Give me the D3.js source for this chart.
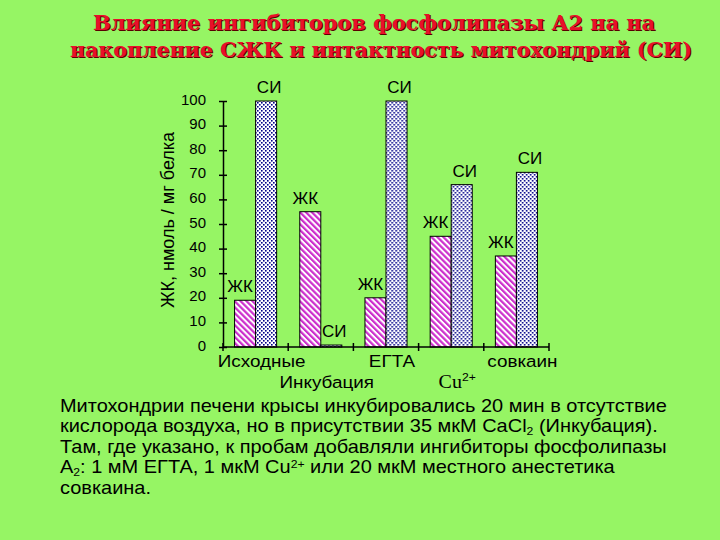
<!DOCTYPE html>
<html>
<head>
<meta charset="utf-8">
<script src="https://cdn.jsdelivr.net/npm/d3@7/dist/d3.min.js"></script>
<style>
    html, body { margin: 0; padding: 0; background: #96f564; }
    svg { display: block; }
    text { font-family: 'Liberation Sans', Arial, sans-serif; fill: #000; }
</style>
</head>
<body>
<svg id="chart"></svg>
<script>
'use strict';

/*
    Data
*/

const GROUPS      = ['Исходные', 'Инкубация', 'ЕГТА', 'Cu2+', 'совкаин'];
const SERIES      = ['ЖК', 'СИ'];
const FFA_VALUES  = [19, 55, 20, 45, 37];     // ЖК, нмоль / мг белка
const SI_VALUES   = [100, 0.8, 100, 66, 71];  // СИ
const Y_TICKS     = [0, 10, 20, 30, 40, 50, 60, 70, 80, 90, 100];

const TITLE_LINES = [
    'Влияние ингибиторов фосфолипазы А2 на на',
    'накопление СЖК и интактность митохондрий (СИ)'
];
const Y_LABEL = 'ЖК, нмоль / мг белка';

// Note under the chart: [text, 'sub' | 'sup' | '']
const NOTE_LINES = [
    [['Митохондрии печени крысы инкубировались 20 мин в отсутствие', '']],
    [['кислорода воздуха, но в присутствии 35 мкМ CaCl', ''], ['2', 'sub'], [' (Инкубация).', '']],
    [['Там, где указано, к пробам добавляли ингибиторы фосфолипазы', '']],
    [['A', ''], ['2', 'sub'], [': 1 мМ ЕГТА, 1 мкМ Cu', ''], ['2+', 'sup'], [' или 20 мкМ местного анестетика', '']],
    [['совкаина.', '']]
];

/*
    Constants
*/

const CHART = d3.select('#chart');

const DIMENSIONS = Object.freeze({ WIDTH : 720, HEIGHT : 540 });

const PLOT = Object.freeze({
    LEFT   : 223,
    RIGHT  : 549,
    TOP    : 101,
    BOTTOM : 347
});

const COLORS = Object.freeze({
    BACKGROUND : '#96f564',
    HATCH      : '#cc2ecc',
    DOTS       : '#000088',
    TITLE      : '#e8102a',
    SHADOW     : '#5a0000'
});

// the slide text is a little wider than plain Arial
const WIDEN = 1.11;

/*
    Functions
*/

function widen(selection, k) {
    selection.each(function () {
        const t  = d3.select(this);
        const x0 = +t.attr('x') || 0;
        t.attr('transform', `translate(${x0 * (1 - k)},0) scale(${k},1)`);
    });
}

/*
    Scales
*/

let x = d3.scaleBand()
          .domain(GROUPS)
          .range([PLOT.LEFT, PLOT.RIGHT]);

let xSeries = d3.scaleBand()
                .domain(SERIES)
                .range([0, x.bandwidth()])
                .paddingInner(0)
                .paddingOuter(0.55);

let y = d3.scaleLinear()
          .domain([0, 100])
          .range([PLOT.BOTTOM, PLOT.TOP]);

/*
    D3 code
*/

CHART.attr('width', DIMENSIONS.WIDTH)
     .attr('height', DIMENSIONS.HEIGHT);

CHART.append('rect')
     .attr('width', DIMENSIONS.WIDTH)
     .attr('height', DIMENSIONS.HEIGHT)
     .attr('fill', COLORS.BACKGROUND);

// Fill patterns
const DEFS = CHART.append('defs');

const HATCH = DEFS.append('pattern')
                  .attr('id', 'hatch')
                  .attr('patternUnits', 'userSpaceOnUse')
                  .attr('width', 4.2)
                  .attr('height', 4.2)
                  .attr('patternTransform', 'rotate(-45)');
HATCH.append('rect').attr('width', 4.2).attr('height', 4.2).attr('fill', '#fff');
HATCH.append('rect').attr('width', 2.2).attr('height', 4.2).attr('fill', COLORS.HATCH);

const DOTS = DEFS.append('pattern')
                 .attr('id', 'dots')
                 .attr('patternUnits', 'userSpaceOnUse')
                 .attr('width', 4)
                 .attr('height', 4);
DOTS.append('rect').attr('width', 4).attr('height', 4).attr('fill', '#fff');
DOTS.append('rect').attr('width', 1.6).attr('height', 1.6).attr('fill', COLORS.DOTS);
DOTS.append('rect').attr('x', 2).attr('y', 2).attr('width', 1.6).attr('height', 1.6).attr('fill', COLORS.DOTS);

// Title, with a dark shadow under the red text
const TITLE_Y      = [30, 57];
const TITLE_X      = [93, 70];
const TITLE_LENGTH = [562, 622];

[COLORS.SHADOW, COLORS.TITLE].forEach((colour, layer) => {
    CHART.append('g')
         .selectAll('text')
         .data(TITLE_LINES)
         .join('text')
           .attr('x', (d, i) => TITLE_X[i] + (layer ? 0 : 1.2))
           .attr('y', (d, i) => TITLE_Y[i] + (layer ? 0 : 1.2))
           .attr('textLength', (d, i) => TITLE_LENGTH[i])
           .attr('lengthAdjust', 'spacingAndGlyphs')
           .style('font-family', "'DejaVu Serif', serif")
           .style('font-weight', 'bold')
           .style('font-size', '20px')
           .style('fill', colour)
           .text(d => d);
});

// Bars
const rows = GROUPS.map((group, i) => ({
    group,
    values : [
        { series : 'ЖК', value : FFA_VALUES[i] },
        { series : 'СИ', value : SI_VALUES[i] }
    ]
}));

const groupSel = CHART.append('g')
                      .selectAll('g')
                      .data(rows)
                      .join('g')
                        .attr('transform', d => `translate(${x(d.group)},0)`);

groupSel.selectAll('rect')
        .data(d => d.values)
        .join('rect')
          .attr('x', d => xSeries(d.series))
          .attr('y', d => y(d.value))
          .attr('width', xSeries.bandwidth())
          .attr('height', d => y(0) - y(d.value))
          .attr('fill', d => d.series === 'ЖК' ? 'url(#hatch)' : 'url(#dots)')
          .attr('stroke', '#000')
          .attr('stroke-width', 1);

groupSel.selectAll('text')
        .data(d => d.values)
        .join('text')
          .attr('x', d => xSeries(d.series) + xSeries.bandwidth() / 2 + (d.series === 'ЖК' ? -5 : 3))
          .attr('y', d => y(d.value) - 8)
          .attr('text-anchor', 'middle')
          .style('font-size', '17px')
          .text(d => d.series);

// Y axis, ticks cross the axis line
let yAxis = d3.axisLeft(y)
              .tickValues(Y_TICKS)
              .tickSizeInner(4)
              .tickSizeOuter(0)
              .tickPadding(13);

const yAxisG = CHART.append('g')
                    .attr('transform', `translate(${PLOT.LEFT},0)`)
                    .call(yAxis);

yAxisG.select('.domain').attr('stroke', '#000').attr('stroke-width', 1.5);
yAxisG.selectAll('.tick line').attr('x1', 4).attr('stroke-width', 1.5);
yAxisG.selectAll('.tick text')
      .attr('dy', '0.2em')
      .style('font-family', "'Liberation Sans', Arial, sans-serif")
      .style('font-size', '15px');

CHART.append('text')
     .attr('transform', `translate(174,${(PLOT.TOP + PLOT.BOTTOM) / 2 - 4}) rotate(-90)`)
     .attr('text-anchor', 'middle')
     .style('font-size', '18px')
     .text(Y_LABEL);

// X axis with ticks on group boundaries
const BOUNDARIES = GROUPS.map(g => x(g)).concat([PLOT.RIGHT]);

CHART.append('line')
     .attr('x1', PLOT.LEFT)
     .attr('x2', PLOT.RIGHT)
     .attr('y1', y(0))
     .attr('y2', y(0))
     .attr('stroke', '#000')
     .attr('stroke-width', 1.5);

CHART.append('g')
     .selectAll('line')
     .data(BOUNDARIES)
     .join('line')
       .attr('x1', d => d)
       .attr('x2', d => d)
       .attr('y1', y(0) - 4)
       .attr('y2', y(0) + 4)
       .attr('stroke', '#000')
       .attr('stroke-width', 1.5);

// Category labels, alternating rows
const catLabels = CHART.append('g')
                       .selectAll('text')
                       .data(GROUPS)
                       .join('text')
                         .attr('x', d => x(d) + x.bandwidth() / 2 + 6)
                         .attr('y', (d, i) => i % 2 ? 388 : 367)
                         .attr('text-anchor', 'middle')
                         .style('font-size', '17px');

catLabels.each(function (d) {
    const el = d3.select(this);
    if (d === 'Cu2+') {
        el.append('tspan').style('font-family', "'Liberation Serif', serif").style('font-size', '18px').text('Cu');
        el.append('tspan').attr('dy', -7).style('font-size', '11px').text('2+');
    } else {
        el.text(d);
    }
});
widen(catLabels, WIDEN);

// Note text
const NOTE_TOP = 412;
const NOTE_LEADING = 20.5;

const noteLines = CHART.append('g')
     .selectAll('text')
     .data(NOTE_LINES)
     .join('text')
       .attr('x', 60)
       .attr('y', (d, i) => NOTE_TOP + i * NOTE_LEADING)
       .style('font-size', '18px')
       .each(function (segments) {
           const el = d3.select(this);
           let shift = 0;
           segments.forEach(([txt, kind]) => {
               const target = kind === 'sub' ? 3 : kind === 'sup' ? -5 : 0;
               el.append('tspan')
                 .attr('dy', target - shift)
                 .style('font-size', kind ? '11px' : null)
                 .text(txt);
               shift = target;
           });
       });
widen(noteLines, WIDEN);
</script>
</body>
</html>
